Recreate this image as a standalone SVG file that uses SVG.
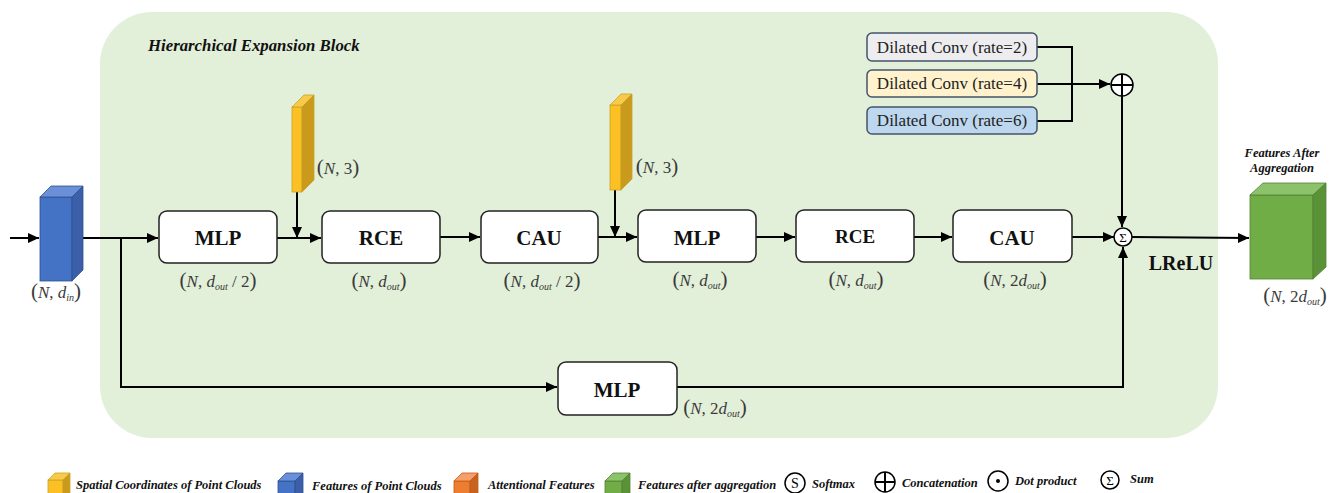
<svg xmlns="http://www.w3.org/2000/svg" width="1329" height="493" viewBox="0 0 1329 493">
<defs>
<marker id="ah" markerUnits="userSpaceOnUse" markerWidth="11" markerHeight="10" refX="11" refY="5" orient="auto">
<path d="M0,0 L11,5 L0,10 z" fill="#000"/>
</marker>
</defs>
<style>
.box{fill:#fff;stroke:#222;stroke-width:1.5}
.bl{font-family:"Liberation Serif",serif;font-weight:bold;fill:#111;text-anchor:middle}
.m{font-family:"Liberation Serif",serif;font-size:17px;fill:#3a3a3a;text-anchor:middle}
.i{font-style:italic}
.s{font-size:10px;font-style:italic}
.p{font-size:21px}
.ln{fill:none;stroke:#000;stroke-width:2}
.dc{stroke:#44546a;stroke-width:1.5}
.dt{font-family:"Liberation Serif",serif;font-size:17px;fill:#222}
.lg{font-family:"Liberation Serif",serif;font-size:12.5px;font-weight:bold;font-style:italic;fill:#111}
.op{fill:#fff;stroke:#000;stroke-width:1.5}
</style>
<rect x="100" y="12" width="1118" height="426" rx="52" fill="#e2efd9"/>
<text x="148" y="51" font-family="Liberation Serif,serif" font-size="16.8" font-weight="bold" font-style="italic" fill="#111">Hierarchical Expansion Block</text>

<g id="connectors">
<path class="ln" d="M10,238 H39" marker-end="url(#ah)"/>
<path class="ln" d="M83,238 H158" marker-end="url(#ah)"/>
<path class="ln" d="M121,238 V387 H557" marker-end="url(#ah)"/>
<path class="ln" d="M277,238 H321" marker-end="url(#ah)"/>
<path class="ln" d="M297,192 V238" marker-end="url(#ah)"/>
<path class="ln" d="M440,237 H480" marker-end="url(#ah)"/>
<path class="ln" d="M598,237 H637" marker-end="url(#ah)"/>
<path class="ln" d="M615,190 V237" marker-end="url(#ah)"/>
<path class="ln" d="M756,237 H795" stroke-width="2.5" marker-end="url(#ah)"/>
<path class="ln" d="M914,237 H952" stroke-width="2.5" marker-end="url(#ah)"/>
<path class="ln" d="M1072,237 H1114" marker-end="url(#ah)"/>
<path class="ln" d="M1132,237 L1249,238" marker-end="url(#ah)"/>
<path class="ln" d="M1037,47 H1072 V121 H1037" stroke-width="1.6"/>
<path class="ln" d="M1037,84 H1110" marker-end="url(#ah)"/>
<path class="ln" d="M1122,96 V227" marker-end="url(#ah)"/>
<path class="ln" d="M677,387 H1123 V247" marker-end="url(#ah)"/>
</g>

<g id="input-features">
<rect x="40" y="197" width="32" height="84" fill="#4472c4" stroke="#2f528f" stroke-width="0.8"/>
<polygon points="40,197 51,186 83,186 72,197" fill="#6b8fd8" stroke="#2f528f" stroke-width="0.8"/>
<polygon points="72,197 83,186 83,270 72,281" fill="#3b5fa8" stroke="#2f528f" stroke-width="0.8"/>
<text class="m" x="56" y="298"><tspan class="p">(</tspan><tspan class="i">N</tspan>, <tspan class="i">d</tspan><tspan class="s" dy="3">in</tspan><tspan class="p" dy="-3">)</tspan></text>
</g>

<g id="coords1">
<rect x="292" y="107" width="10" height="85" fill="#fbc023" stroke="#c9a227" stroke-width="0.8"/>
<polygon points="292,107 304,95 314,95 302,107" fill="#f7ca4a" stroke="#c9a227" stroke-width="0.8"/>
<polygon points="302,107 314,95 314,180 302,192" fill="#c99a1b" stroke="#c9a227" stroke-width="0.8"/>
<text class="m" x="338" y="174"><tspan class="p">(</tspan><tspan class="i">N</tspan>, 3<tspan class="p">)</tspan></text>
</g>

<g id="coords2">
<rect x="610" y="105" width="11" height="85" fill="#fbc023" stroke="#c9a227" stroke-width="0.8"/>
<polygon points="610,105 621,94 632,94 621,105" fill="#f7ca4a" stroke="#c9a227" stroke-width="0.8"/>
<polygon points="621,105 632,94 632,179 621,190" fill="#c99a1b" stroke="#c9a227" stroke-width="0.8"/>
<text class="m" x="657" y="173"><tspan class="p">(</tspan><tspan class="i">N</tspan>, 3<tspan class="p">)</tspan></text>
</g>

<g id="mlp1">
<rect class="box" x="159" y="211" width="118" height="52" rx="8"/>
<text class="bl" x="218" y="245" font-size="21">MLP</text>
<text class="m" x="218" y="287"><tspan class="p">(</tspan><tspan class="i">N</tspan>, <tspan class="i">d</tspan><tspan class="s" dy="3">out</tspan><tspan dy="-3"> / 2</tspan><tspan class="p">)</tspan></text>
</g>

<g id="rce1">
<rect class="box" x="322" y="211" width="118" height="52" rx="8"/>
<text class="bl" x="381" y="245" font-size="21">RCE</text>
<text class="m" x="379" y="287"><tspan class="p">(</tspan><tspan class="i">N</tspan>, <tspan class="i">d</tspan><tspan class="s" dy="3">out</tspan><tspan class="p" dy="-3">)</tspan></text>
</g>

<g id="cau1">
<rect class="box" x="481" y="211" width="117" height="52" rx="8"/>
<text class="bl" x="539" y="245" font-size="21">CAU</text>
<text class="m" x="542" y="287"><tspan class="p">(</tspan><tspan class="i">N</tspan>, <tspan class="i">d</tspan><tspan class="s" dy="3">out</tspan><tspan dy="-3"> / 2</tspan><tspan class="p">)</tspan></text>
</g>

<g id="mlp2">
<rect class="box" x="638" y="210" width="118" height="52" rx="8"/>
<text class="bl" x="697" y="245" font-size="21">MLP</text>
<text class="m" x="700" y="286"><tspan class="p">(</tspan><tspan class="i">N</tspan>, <tspan class="i">d</tspan><tspan class="s" dy="3">out</tspan><tspan class="p" dy="-3">)</tspan></text>
</g>

<g id="rce2">
<rect class="box" x="796" y="210" width="118" height="52" rx="8"/>
<text class="bl" x="855" y="243" font-size="19">RCE</text>
<text class="m" x="856" y="286"><tspan class="p">(</tspan><tspan class="i">N</tspan>, <tspan class="i">d</tspan><tspan class="s" dy="3">out</tspan><tspan class="p" dy="-3">)</tspan></text>
</g>

<g id="cau2">
<rect class="box" x="953" y="210" width="119" height="52" rx="8"/>
<text class="bl" x="1012" y="245" font-size="21">CAU</text>
<text class="m" x="1015" y="286"><tspan class="p">(</tspan><tspan class="i">N</tspan>, 2<tspan class="i">d</tspan><tspan class="s" dy="3">out</tspan><tspan class="p" dy="-3">)</tspan></text>
</g>

<g id="mlp3">
<rect class="box" x="558" y="362" width="119" height="53" rx="8"/>
<text class="bl" x="617" y="397" font-size="21">MLP</text>
<text class="m" x="715" y="414"><tspan class="p">(</tspan><tspan class="i">N</tspan>, 2<tspan class="i">d</tspan><tspan class="s" dy="3">out</tspan><tspan class="p" dy="-3">)</tspan></text>
</g>

<g id="dilated2">
<rect class="dc" x="867" y="33" width="170" height="28" rx="5" fill="#ededf0"/>
<text class="dt" x="952" y="53" text-anchor="middle">Dilated Conv (rate=2)</text>
</g>
<g id="dilated4">
<rect class="dc" x="867" y="70" width="170" height="27" rx="5" fill="#fff2cc"/>
<text class="dt" x="952" y="89" text-anchor="middle">Dilated Conv (rate=4)</text>
</g>
<g id="dilated6">
<rect class="dc" x="867" y="107" width="170" height="27" rx="5" fill="#bdd7ee"/>
<text class="dt" x="952" y="126" text-anchor="middle">Dilated Conv (rate=6)</text>
</g>

<g id="concat">
<circle class="op" cx="1122" cy="85" r="11" stroke-width="2"/>
<path d="M1111,85 H1133 M1122,74 V96" stroke="#000" stroke-width="2"/>
</g>

<g id="sum">
<circle class="op" cx="1123" cy="237" r="9"/>
<text x="1123" y="242" font-family="Liberation Serif,serif" font-size="13" text-anchor="middle" fill="#000">Σ</text>
<text class="bl" x="1181" y="270" font-size="20">LReLU</text>
</g>

<g id="output-features">
<text class="lg" x="1282" y="157" text-anchor="middle">Features After</text>
<text class="lg" x="1282" y="172" text-anchor="middle">Aggregation</text>
<rect x="1250" y="195" width="63" height="84" fill="#70ad47" stroke="#548235" stroke-width="0.8"/>
<polygon points="1250,195 1263,183 1326,183 1313,195" fill="#8cc26a" stroke="#548235" stroke-width="0.8"/>
<polygon points="1313,195 1326,183 1326,267 1313,279" fill="#5a9238" stroke="#548235" stroke-width="0.8"/>
<text class="m" x="1295" y="302"><tspan class="p">(</tspan><tspan class="i">N</tspan>, 2<tspan class="i">d</tspan><tspan class="s" dy="3">out</tspan><tspan class="p" dy="-3">)</tspan></text>
</g>

<g id="legend">
<rect x="48" y="480" width="15" height="16" fill="#fbc023" stroke="#c9a227" stroke-width="0.8"/>
<polygon points="48,480 55,473 70,473 63,480" fill="#f7ca4a" stroke="#c9a227" stroke-width="0.8"/>
<polygon points="63,480 70,473 70,493 63,496" fill="#c99a1b" stroke="#c9a227" stroke-width="0.8"/>
<text class="lg" x="76" y="489">Spatial Coordinates of Point Clouds</text>

<rect x="278" y="481" width="17" height="16" fill="#4472c4" stroke="#2f528f" stroke-width="0.8"/>
<polygon points="278,481 286,473 303,473 295,481" fill="#6b8fd8" stroke="#2f528f" stroke-width="0.8"/>
<polygon points="295,481 303,473 303,493 295,497" fill="#3b5fa8" stroke="#2f528f" stroke-width="0.8"/>
<text class="lg" x="312" y="490">Features of Point Clouds</text>

<rect x="454" y="481" width="16" height="16" fill="#ed7d31" stroke="#c55a11" stroke-width="0.8"/>
<polygon points="454,481 462,473 478,473 470,481" fill="#f4a06a" stroke="#c55a11" stroke-width="0.8"/>
<polygon points="470,481 478,473 478,493 470,497" fill="#c8621f" stroke="#c55a11" stroke-width="0.8"/>
<text class="lg" x="488" y="489">Attentional Features</text>

<rect x="605" y="481" width="17" height="16" fill="#70ad47" stroke="#548235" stroke-width="0.8"/>
<polygon points="605,481 613,473 630,473 622,481" fill="#8cc26a" stroke="#548235" stroke-width="0.8"/>
<polygon points="622,481 630,473 630,493 622,497" fill="#5a9238" stroke="#548235" stroke-width="0.8"/>
<text class="lg" x="638" y="489">Features after aggregation</text>

<circle class="op" cx="795" cy="483" r="10"/>
<text x="795" y="488" font-family="Liberation Serif,serif" font-size="14" text-anchor="middle" fill="#000">S</text>
<text class="lg" x="812" y="488" font-size="13">Softmax</text>

<circle class="op" cx="885" cy="482" r="10" stroke-width="2"/>
<path d="M875,482 H895 M885,472 V492" stroke="#000" stroke-width="2"/>
<text class="lg" x="902" y="487">Concatenation</text>

<circle class="op" cx="998" cy="481" r="10"/>
<circle cx="998" cy="481" r="2" fill="#000"/>
<text class="lg" x="1015" y="485">Dot product</text>

<circle class="op" cx="1110" cy="480" r="9"/>
<text x="1110" y="485" font-family="Liberation Serif,serif" font-size="13" text-anchor="middle" fill="#000">Σ</text>
<text class="lg" x="1130" y="483" font-size="13">Sum</text>
</g>
</svg>
